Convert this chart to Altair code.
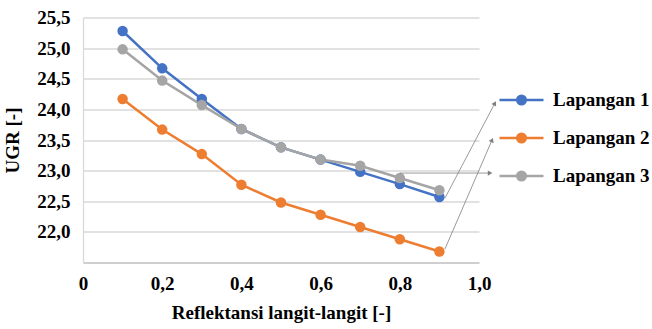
import altair as alt
import pandas as pd

# ---- data ----
reflektansi = [0.1, 0.2, 0.3, 0.4, 0.5, 0.6, 0.7, 0.8, 0.9]
lapangan_1 = [25.28, 24.67, 24.17, 23.68, 23.38, 23.18, 22.98, 22.78, 22.57]
lapangan_2 = [24.17, 23.67, 23.27, 22.77, 22.48, 22.28, 22.08, 21.88, 21.68]
lapangan_3 = [24.98, 24.47, 24.07, 23.68, 23.38, 23.18, 23.08, 22.88, 22.68]
series_names = ["Lapangan 1", "Lapangan 2", "Lapangan 3"]
series_colors = ["#4472C4", "#ED7D31", "#A5A5A5"]
y_ticks = [22.0, 22.5, 23.0, 23.5, 24.0, 24.5, 25.0, 25.5]
x_ticks = [0, 0.2, 0.4, 0.6, 0.8, 1.0]

# leader arrows (annotation) from the line ends to the legend, in data units
arrow_x1 = [0.914, 0.914, 0.800]
arrow_y1 = [22.55, 21.72, 22.96]
arrow_x2 = [1.040, 1.033, 1.028]
arrow_y2 = [24.10, 23.50, 22.96]
arrow_angle = [28, 23, 90]

rows = []
for name, vals in zip(series_names, [lapangan_1, lapangan_2, lapangan_3]):
    for x, y in zip(reflektansi, vals):
        rows.append({"x": x, "y": y, "series": name})
df = pd.DataFrame(rows)

arrows = pd.DataFrame({"x1": arrow_x1, "y1": arrow_y1, "x2": arrow_x2,
                       "y2": arrow_y2, "angle": arrow_angle})

FONT = "Liberation Serif, Times New Roman, serif"

XSCALE = alt.Scale(domain=[0, 1], nice=False, zero=False)
YSCALE = alt.Scale(domain=[21.5, 25.5], nice=False, zero=False)
CSCALE = alt.Scale(domain=series_names, range=series_colors)

XAXIS = alt.Axis(
    orient="bottom",
    values=x_ticks,
    labelExpr="datum.value == 0 ? '0' : replace(format(datum.value, '.1f'), '.', ',')",
    labelOverlap=False,
    labelFlush=False,
    title="Reflektansi langit-langit [-]",
    grid=False, ticks=False,
    domainColor="#BFBFBF", domainWidth=1.5,
    labelFont=FONT, labelFontSize=19, labelFontWeight="bold", labelColor="#000000",
    labelPadding=12,
    titleFont=FONT, titleFontSize=19, titleFontWeight="bold", titleColor="#000000",
    titlePadding=10,
)
YAXIS = alt.Axis(
    orient="left",
    values=y_ticks,
    labelExpr="replace(format(datum.value, '.1f'), '.', ',')",
    labelOverlap=False,
    labelFlush=False,
    title="UGR [-]",
    grid=True, gridColor="#D9D9D9", gridWidth=1.3,
    ticks=False,
    domainColor="#D9D9D9", domainWidth=1.3,
    labelFont=FONT, labelFontSize=19, labelFontWeight="bold", labelColor="#000000",
    labelPadding=13,
    titleFont=FONT, titleFontSize=19, titleFontWeight="bold", titleColor="#000000",
    titlePadding=14,
)
LEGEND = alt.Legend(
    title=None,
    orient="none",
    legendX=415,
    legendY=59,
    symbolType=("M-1,0L1,0"
                "M-0.195,0A0.195,0.195,0,1,0,0.195,0A0.195,0.195,0,1,0,-0.195,0"
                "M-0.105,0A0.105,0.105,0,1,0,0.105,0A0.105,0.105,0,1,0,-0.105,0"
                "M-0.02,0A0.02,0.02,0,1,0,0.02,0A0.02,0.02,0,1,0,-0.02,0"),
    symbolSize=1936,
    symbolStrokeWidth=2.5,
    symbolOpacity=1,
    labelFont=FONT,
    labelFontSize=19,
    labelFontWeight="bold",
    labelColor="#000000",
    labelOffset=8,
    rowPadding=4,
    labelLimit=300,
)

lines = alt.Chart(df).mark_line(strokeWidth=2.5).encode(
    x=alt.X("x:Q", scale=XSCALE, axis=XAXIS),
    y=alt.Y("y:Q", scale=YSCALE, axis=YAXIS),
    color=alt.Color("series:N", scale=CSCALE, legend=LEGEND),
    order="x:Q",
)
points = alt.Chart(df).mark_point(filled=True, size=110, opacity=1).encode(
    x=alt.X("x:Q", scale=XSCALE, axis=XAXIS),
    y=alt.Y("y:Q", scale=YSCALE, axis=YAXIS),
    color=alt.Color("series:N", scale=CSCALE, legend=LEGEND),
)

arrow_lines = alt.Chart(arrows).mark_rule(color="#808080", strokeWidth=0.8).encode(
    x=alt.X("x1:Q", scale=XSCALE, axis=XAXIS),
    y=alt.Y("y1:Q", scale=YSCALE, axis=YAXIS),
    x2="x2:Q", y2="y2:Q",
)
arrow_heads = alt.Chart(arrows).mark_point(
    shape="triangle-up", filled=True, color="#808080", size=28, opacity=1
).encode(
    x=alt.X("x2:Q", scale=XSCALE, axis=XAXIS),
    y=alt.Y("y2:Q", scale=YSCALE, axis=YAXIS),
    angle=alt.Angle("angle:Q", scale=None),
)

chart = alt.layer(lines, points, arrow_lines, arrow_heads).properties(
    width=396, height=245,
    autosize=alt.AutoSizeParams(type="none"),
    padding={"left": 83, "top": 17.5, "right": 173, "bottom": 66.5},
).configure(background="#FFFFFF", font=FONT).configure_view(stroke="transparent")

chart.save("out.html", embed_options={"renderer": "svg", "actions": False})
